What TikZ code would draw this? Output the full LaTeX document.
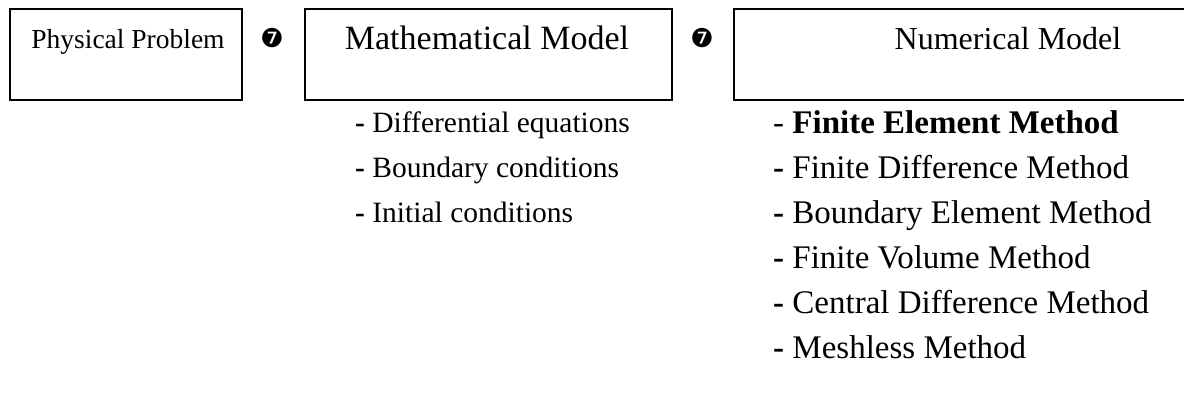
\documentclass[tikz,border=0pt]{standalone}
\usepackage{fontspec}
\setmainfont{Liberation Serif}
\newfontfamily\dejavu{DejaVu Sans}
\begin{document}
\begin{tikzpicture}[x=1pt,y=-1pt,
  box/.style={draw=black,line width=2.3pt,minimum width=#1,minimum height=91pt,inner sep=0pt,anchor=north west},
  title/.style={font=\fontsize{#1}{34}\selectfont,inner sep=0pt,anchor=base},
  item/.style={font=\fontsize{#1}{34}\selectfont,inner sep=0pt,anchor=base west},
  mark7/.style={font=\dejavu\fontsize{26}{30}\selectfont,inner sep=0pt}]
\useasboundingbox (0,0) rectangle (1184,410);
\clip (0,0) rectangle (1184,410);
\node[box=232pt] (b1) at (9,8) {};
\node[box=367pt] (b2) at (304,8) {};
\node[box=500pt] (b3) at (733,8) {};
\node[title=27.5] (t1) at (128,48) {Physical Problem};
\node[title=34] (t2) at (487,49) {Mathematical Model};
\node[title=32] (t3) at (1008,49) {Numerical Model};
\node[mark7] (m1) at (272,38) {❼};
\node[mark7] (m2) at (702,38) {❼};
\node[item=29.5] (l1) at (355,132) {\textbf{-} Differential equations};
\node[item=29.5] (l2) at (355,177) {\textbf{-} Boundary conditions};
\node[item=29.5] (l3) at (355,222) {\textbf{-} Initial conditions};
\node[item=33] (r1) at (773,133) {- \textbf{Finite Element Method}};
\node[item=33] (r2) at (773,178) {\textbf{-} Finite Difference Method};
\node[item=33] (r3) at (773,223) {\textbf{-} Boundary Element Method};
\node[item=33] (r4) at (773,268) {\textbf{-} Finite Volume Method};
\node[item=33] (r5) at (773,313) {\textbf{-} Central Difference Method};
\node[item=33] (r6) at (773,358) {\textbf{-} Meshless Method};
\end{tikzpicture}
\end{document}
